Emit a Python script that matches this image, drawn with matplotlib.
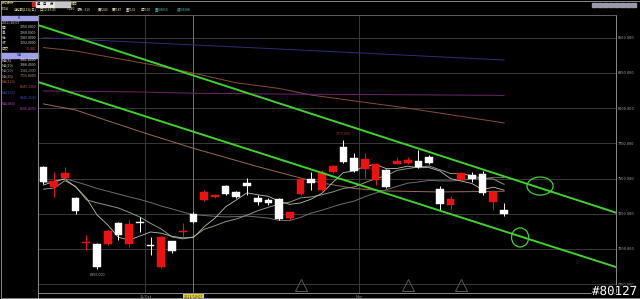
import matplotlib
matplotlib.use('Agg')
import matplotlib.pyplot as plt
from matplotlib.patches import Rectangle, Ellipse
import matplotlib.patheffects as pe

plt.rcParams['font.family'] = ['Noto Sans CJK TC', 'DejaVu Sans']

# daily candles, TXDA, 2011/09/16 .. 2011/11/18
opens = [7582, 7440, 7504, 7362, 7040, 7035, 7035, 7185, 7035, 7188,
         7024, 6872, 7057, 7118, 7250, 7348, 7370, 7447, 7405, 7469,
         7362, 7348, 7355, 7220, 7390, 7497, 7419, 7547, 7724, 7646,
         7568, 7490, 7561, 7604, 7611, 7625, 7653, 7426, 7312, 7490,
         7525, 7533, 7334, 7277]
highs = [7590, 7547, 7582, 7369, 7100, 7045, 7135, 7190, 7206, 7227,
         7085, 7090, 7060, 7185, 7260, 7420, 7390, 7452, 7410, 7504,
         7383, 7362, 7360, 7266, 7500, 7547, 7561, 7595, 7777, 7682,
         7682, 7611, 7565, 7653, 7653, 7703, 7667, 7447, 7376, 7547,
         7547, 7554, 7410, 7327]
lows = [7465, 7369, 7490, 7249, 6993, 6855, 7030, 7064, 7014, 7121,
        6957, 6865, 6972, 7085, 7183, 7340, 7365, 7385, 7360, 7383,
        7312, 7312, 7205, 7206, 7385, 7419, 7415, 7540, 7610, 7550,
        7504, 7454, 7433, 7600, 7605, 7578, 7605, 7277, 7284, 7476,
        7476, 7383, 7277, 7234]
closes = [7476, 7483, 7540, 7270, 7045, 6872, 7128, 7099, 7178, 7182,
          7018, 7085, 6986, 7124, 7192, 7405, 7383, 7390, 7369, 7450,
          7334, 7327, 7213, 7263, 7497, 7469, 7540, 7589, 7618, 7554,
          7639, 7604, 7440, 7625, 7632, 7582, 7611, 7320, 7355, 7540,
          7497, 7398, 7405, 7249]

ma5 = [7454, 7480, 7497, 7440, 7363, 7242, 7171, 7083, 7064, 7092,
       7121, 7112, 7090, 7079, 7081, 7158, 7218, 7299, 7348, 7399,
       7385, 7374, 7339, 7317, 7327, 7354, 7396, 7472, 7543, 7554,
       7588, 7601, 7571, 7572, 7588, 7577, 7578, 7554, 7500, 7482,
       7465, 7422, 7439, 7418]
ma10 = [7425, 7433, 7485, 7445, 7350, 7328, 7310, 7291, 7260, 7227,
        7182, 7142, 7086, 7072, 7086, 7140, 7165, 7194, 7213, 7240,
        7272, 7296, 7319, 7333, 7363, 7370, 7385, 7405, 7430, 7440,
        7471, 7499, 7521, 7558, 7571, 7582, 7589, 7563, 7536, 7535,
        7521, 7500, 7497, 7459]
ma20 = [7472, 7480, 7500, 7478, 7455, 7430, 7410, 7390, 7370, 7352,
        7330, 7305, 7285, 7262, 7244, 7238, 7232, 7228, 7230, 7234,
        7227, 7219, 7203, 7202, 7225, 7255, 7275, 7300, 7322, 7340,
        7371, 7397, 7420, 7445, 7467, 7476, 7487, 7484, 7483, 7488,
        7496, 7499, 7509, 7508]
ma40_idx = [0, 3, 6, 10, 14, 17, 20, 24, 26, 29, 32, 37, 43]
ma40 = [8030, 7987, 7910, 7810, 7715, 7650, 7585, 7504, 7469, 7430, 7412, 7405, 7410]
ma120_idx = [0, 3, 10, 14, 18, 22, 25, 34, 43]
ma120 = [8430, 8406, 8310, 8249, 8180, 8140, 8093, 8000, 7895]
ma240_idx = [0, 14, 22, 43]
ma240 = [8500, 8449, 8420, 8342]
ma480_idx = [0, 9, 14, 22, 43]
ma480 = [8122, 8115, 8106, 8100, 8091]

# hand drawn channel and marks
upper_x = [-0.51, 53.45]
upper_y = [8590, 7258]
lower_x = [-0.51, 53.45]
lower_y = [8186, 6872]
circle_x = [46.36, 44.5]
circle_y = [7447, 7082]
signal_idx = [24, 34, 39]

price_ticks = [6750, 7000, 7250, 7500, 7750, 8000, 8250, 8500]

W, H = 640, 299
fig = plt.figure(figsize=(6.4, 2.99), dpi=100, facecolor='black')


def fx(px):
    return px / W


def fy(py):
    return 1 - py / H


ax = fig.add_axes([fx(38), fy(293), fx(616) - fx(38), fy(15) - fy(293)])
ax.set_facecolor('black')
ax.set_xlim(-0.51, 53.45)
ax.set_ylim(6687.6, 8661.4)

for p in price_ticks:
    ax.axhline(p, color='#3a3a3a', lw=0.7, zorder=0)
ax.axvline(9.5, color='#3a3a3a', lw=0.7, zorder=0)
ax.axvline(29.5, color='#3a3a3a', lw=0.7, zorder=0)
ax.axvline(14, color='#7a8a8a', lw=0.6, zorder=0)

ax.yaxis.tick_right()
ax.set_yticks(price_ticks)
ax.set_yticklabels(['%.3f' % p for p in price_ticks])
ax.tick_params(axis='y', length=0, pad=1.5, labelsize=2.8, labelcolor='#b0b0b0')
ax.set_xticks([])
for s in ['left', 'right', 'bottom']:
    ax.spines[s].set_color('#8a8a8a')
    ax.spines[s].set_linewidth(0.7)
ax.spines['top'].set_color('#6a5a5a')
ax.spines['top'].set_linewidth(0.7)

# long moving averages
ax.plot(ma240_idx, ma240, color='#2e2e78', lw=0.7)
ax.plot(ma120_idx, ma120, color='#8a4c3c', lw=0.7)
ax.plot(ma480_idx, ma480, color='#6e2a6e', lw=0.7)
ax.plot(ma40_idx, ma40, color='#9a6a55', lw=0.7)
ax.plot(range(len(ma20)), ma20, color='#6e6e6e', lw=0.7)
ax.plot(range(len(ma10)), ma10, color='#8a9a80', lw=0.7)
ax.plot(range(len(ma5)), ma5, color='#c0c0b8', lw=0.6)

# candles
for i in range(len(opens)):
    o, h, l, c = opens[i], highs[i], lows[i], closes[i]
    col = '#ee1111' if c > o else 'white'
    ax.vlines(i, l, h, color=col, lw=0.7, zorder=3)
    bot = min(o, c)
    ht = max(abs(c - o), 7)
    ax.add_patch(Rectangle((i - 0.36, bot), 0.72, ht, facecolor=col,
                           edgecolor=col, lw=0.3, zorder=4))

ax.text(28, 7777 + 25, '7777.000', color='#a83030', fontsize=2.7, ha='center', va='bottom')
ax.text(5, 6855 - 25, '6855.000', color='#b0b0b0', fontsize=2.7, ha='center', va='top')

# channel
ax.plot(upper_x, upper_y, color='#3fd22a', lw=1.4, zorder=5)
ax.plot(lower_x, lower_y, color='#3fd22a', lw=1.4, zorder=5)
ax.add_patch(Ellipse((circle_x[0], circle_y[0]), 2.43, 128, fill=False,
                     ec='#3fd22a', lw=0.9, zorder=5))
ax.add_patch(Ellipse((circle_x[1], circle_y[1]), 1.6, 135, fill=False,
                     ec='#3fd22a', lw=0.9, zorder=5))

# signal triangles at the bottom
ax.plot(signal_idx, [0.028] * len(signal_idx), marker='^', ls='none', ms=8.5,
        mfc='none', mec='#5a5a5a', mew=0.7, transform=ax.get_xaxis_transform())

# date labels
xt = ax.get_xaxis_transform()
ax.text(9.5, -0.013, '11/Oct', color='#a0a0a0', fontsize=2.7, ha='center', va='center', transform=xt)
ax.text(29.5, -0.013, 'Nov', color='#a0a0a0', fontsize=2.7, ha='center', va='center', transform=xt)
ax.text(14, -0.013, '2011/10/07', color='#303000', fontsize=2.7, ha='center', va='center',
        transform=xt, bbox=dict(boxstyle='square,pad=0.15', fc='#e8d040', ec='none'))

# header
fig.text(fx(1), fy(3), '技術分析', color='#e8e070', fontsize=2.4, va='center')
fig.add_artist(Rectangle((fx(32), fy(6)), fx(3.5), 4 / H, color='#d02020', transform=fig.transFigure))
for k, t in enumerate(['週', '月', '分']):
    fig.add_artist(Rectangle((fx(35.5 + k * 6.5), fy(6.5)), fx(6), 6 / H, color='#e8e8e8',
                             transform=fig.transFigure))
    fig.text(fx(38.5 + k * 6.5), fy(3.5), t, color='black', fontsize=2.4, ha='center', va='center')
fig.add_artist(Rectangle((fx(55), fy(6.5)), fx(15), 6 / H, color='#c8c8c8', transform=fig.transFigure))
fig.text(fx(71), fy(3.5), '確認', color='#e8e070', fontsize=2.4, va='center')
for k in range(8):
    fig.add_artist(Rectangle((fx(592 + k * 5.6), fy(7)), fx(4.5), 4 / H, color='#9a9aa8',
                             transform=fig.transFigure))

row2 = [(1, 'TXDA'), (14, '台指期(112)(日)'), (40, '口:12:43:45'), (67, 'T:240'),
        (77, '漲跌:-119'), (98, '買7240'), (112, '賣7187'), (126, '量7190'),
        (141, '成7190'), (155, '量108050'), (177, '總106988')]
for x0, t in row2:
    col = '#50c0c0' if x0 >= 155 else '#e8e0a0'
    fig.text(fx(x0), fy(9.5), t, color=col, fontsize=2.3, va='center')

# left info panel
fig.add_artist(Rectangle((fx(1), fy(20)), fx(36.5), 4.5 / H, color='#a0a0e8', transform=fig.transFigure))
fig.text(fx(19), fy(17.7), 'K', color='#202040', fontsize=2.6, ha='center', va='center')
fig.text(fx(2), fy(22.7), '2011/10/07', color='#d0d0d0', fontsize=2.6, va='center')
ohlc_names = ['開', '高', '低', '收']
ohlc_vals = ['7250.0000', '7260.0000', '7183.0000', '7192.0000']
for k in range(4):
    y = 27.5 + k * 5.2
    fig.text(fx(2), fy(y), ohlc_names[k], color='#e0e0e0', fontsize=2.6, va='center')
    fig.text(fx(36.5), fy(y), ohlc_vals[k], color='#d0d0d0', fontsize=2.6, ha='right', va='center')
fig.text(fx(2), fy(48.3), '成交', color='#e0d060', fontsize=2.6, va='center')
fig.text(fx(36.5), fy(48.3), '70,481', color='#e03030', fontsize=2.6, ha='right', va='center')

fig.add_artist(Rectangle((fx(1), fy(57.5)), fx(36.5), 4.5 / H, color='#a0a0e8', transform=fig.transFigure))
fig.text(fx(19), fy(55.3), 'MA', color='#202040', fontsize=2.6, ha='center', va='center')
ma_names = ['MA(5)', 'MA(10)', 'MA(20)', 'MA(40)']
ma_vals = ['7081.8000', '7088.4000', '7244.2000', '7715.8000']
ma_cols = ['#e0e0e0', '#b8c8b0', '#909090', '#c09070']
for k in range(4):
    y = 60 + k * 5.3
    fig.text(fx(2), fy(y), ma_names[k], color=ma_cols[k], fontsize=2.6, va='center')
    fig.text(fx(36.5), fy(y), ma_vals[k], color=ma_cols[k], fontsize=2.6, ha='right', va='center')
long_names = ['MA(120)', 'MA(240)', 'MA(480)']
long_vals = ['8249.1300', '8449.2500', '8106.4250']
long_cols = ['#b05a48', '#4848b0', '#b040b0']
for k in range(3):
    y = 81.3 + k * 11
    fig.text(fx(2), fy(y), long_names[k], color=long_cols[k], fontsize=2.6, va='center')
    fig.text(fx(36.5), fy(y + 5.5), long_vals[k], color=long_cols[k], fontsize=2.6, ha='right', va='center')

# frame
fig.add_artist(Rectangle((fx(0.5), fy(298)), fx(639), 297 / H, fill=False, ec='#8a8a8a',
                         lw=0.7, transform=fig.transFigure))
fig.add_artist(plt.Line2D([fx(38), fx(38)], [fy(15), fy(298)], color='#8a8a8a', lw=0.7))

fig.text(fx(637), fy(298), '#80127', color='white', fontsize=9, family='DejaVu Sans Mono',
         ha='right', va='bottom',
         path_effects=[pe.withStroke(linewidth=1.5, foreground='black')])

fig.savefig('out.png', dpi=100, facecolor='black')
